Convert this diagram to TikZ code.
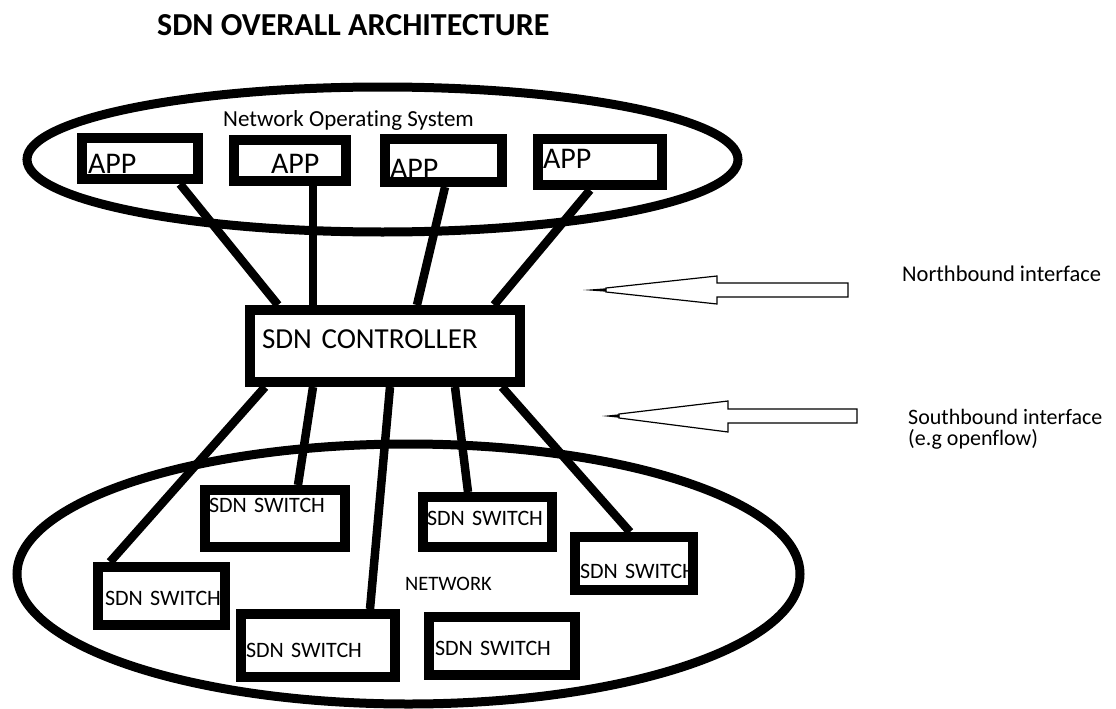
\documentclass[tikz,border=0pt]{standalone}
\usepackage{fontspec}
\setmainfont{Carlito}[Ligatures=NoCommon]
\usepackage{tikz}
\setlength{\parindent}{0pt}

\begin{document}
\begin{tikzpicture}[x=1pt,y=-1pt,
    box/.style={draw,fill=white,line width=10pt,inner sep=0pt,align=left},
    appbox/.style={box,font=\fontsize{30}{36}\selectfont},
    swbox/.style={box,font=\fontsize{22}{26}\selectfont},
    link/.style={line width=8.5pt},
    ring/.style={line width=9pt},
    iface/.style={line width=1.2pt,fill=white},
    txt/.style={inner sep=0pt,anchor=base west}]
  \path[fill=white] (0,0) rectangle (1116,709);
  \useasboundingbox (0,0) rectangle (1116,709);

  \node[txt,font=\fontsize{32}{36}\selectfont\bfseries] (title) at (157,36) {SDN OVERALL ARCHITECTURE};

  % application layer
  \draw[ring] (382.5,159.5) ellipse [x radius=355.5, y radius=72.5];
  \node[txt,font=\fontsize{23}{28}\selectfont] (nos) at (223,126) {Network Operating System};
  \node[appbox,text width=116pt,text height=35pt,text depth=6pt] (app1) at (140,158.5) {\hspace*{6pt}APP};
  \node[appbox,text width=112pt,text height=33pt,text depth=8pt] (app2) at (290,160.5) {\hspace*{37pt}APP};
  \node[appbox,text width=117pt,text height=39pt,text depth=4pt] (app3) at (443.5,160.5) {\hspace*{5pt}APP};
  \node[appbox,text width=124pt,text height=29pt,text depth=17pt] (app4) at (600,162) {\hspace*{5pt}APP};

  % control layer
  \node[box,font=\fontsize{29}{34}\selectfont,text width=270pt,text height=38pt,text depth=34pt] (ctrl) at (385,346) {\hspace*{12pt}SDN CONTROLLER};

  % infrastructure layer
  \draw[ring] (408.5,574) ellipse [x radius=391.5, y radius=130];
  \node[txt,font=\fontsize{20.5}{24}\selectfont] (net) at (405,590) {NETWORK};
  \node[swbox,text width=127pt,text height=38pt,text depth=20pt] (sw1) at (161.5,596) {\hspace*{7pt}SDN~SWITCH};
  \node[swbox,text width=140pt,text height=22pt,text depth=35pt] (sw2) at (275,518.5) {\hspace*{4pt}SDN~SWITCH};
  \node[swbox,text width=154pt,text height=43pt,text depth=20pt] (sw3) at (318,645.5) {\hspace*{5pt}SDN~SWITCH};
  \node[swbox,text width=129pt,text height=28pt,text depth=22pt] (sw4) at (487.5,522) {\hspace*{4pt}SDN~SWITCH};
  \node[swbox,text width=118pt,text height=41pt,text depth=12pt] (sw5) at (634,563.5) {\hspace*{5pt}SDN~SWITCH};
  \node[swbox,text width=146pt,text height=38pt,text depth=20pt] (sw6) at (502,646) {\hspace*{6pt}SDN~SWITCH};

  % northbound links
  \draw[link] ([xshift=40pt]app1.south) -- ([xshift=-107pt]ctrl.north);
  \draw[link] ([xshift=23pt]app2.south) -- ([xshift=-72pt]ctrl.north);
  \draw[link] ([xshift=1.5pt]app3.south) -- ([xshift=32pt]ctrl.north);
  \draw[link] ([xshift=-10pt]app4.south) -- ([xshift=109pt]ctrl.north);

  % southbound links
  \draw[link] ([xshift=-120pt]ctrl.south) -- ([xshift=-51.5pt]sw1.north);
  \draw[link] ([xshift=-72pt]ctrl.south) -- ([xshift=23pt]sw2.north);
  \draw[link] ([xshift=5pt]ctrl.south) -- ([xshift=52pt]sw3.north);
  \draw[link] ([xshift=70pt]ctrl.south) -- ([xshift=-19.5pt]sw4.north);
  \draw[link] ([xshift=117pt]ctrl.south) -- ([xshift=-4pt]sw5.north);

  % interface arrows
  \draw[iface] (848,283) -- (717,283) -- (717,276) -- (606,288) -- (606,292) -- (717,304) -- (717,297) -- (848,297) -- cycle;
  \fill (583,290) -- (606,288.3) -- (606,291.7) -- cycle;
  \node[txt,font=\fontsize{22.5}{26}\selectfont] (north) at (902,281) {Northbound interface};

  \draw[iface] (857,409) -- (728,409) -- (728,401) -- (619,414) -- (619,418) -- (728,432) -- (728,423) -- (857,423) -- cycle;
  \fill (602,416) -- (619,414.3) -- (619,417.7) -- cycle;
  \node[txt,font=\fontsize{22}{21.5}\selectfont,align=left] (south) at (908,445.5) {Southbound interface\\(e.g openflow)};
\end{tikzpicture}
\end{document}
